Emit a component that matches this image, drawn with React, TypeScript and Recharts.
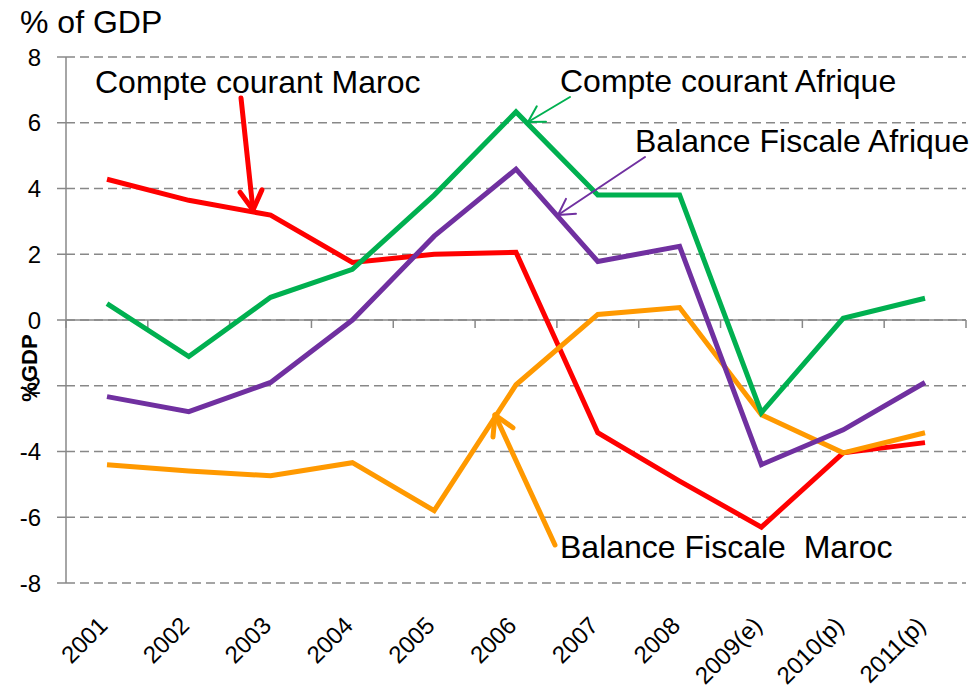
import { LineChart, Line, XAxis, YAxis, CartesianGrid, ReferenceLine } from 'recharts';

const years = ['2001', '2002', '2003', '2004', '2005', '2006', '2007', '2008', '2009(e)', '2010(p)', '2011(p)'];
const compteMaroc = [4.28, 3.64, 3.19, 1.75, 2.0, 2.06, -3.43, -4.9, -6.3, -4.04, -3.73];
const compteAfrique = [0.5, -1.11, 0.69, 1.54, 3.8, 6.33, 3.8, 3.8, -2.82, 0.05, 0.66];
const balanceAfrique = [-2.33, -2.79, -1.9, 0.0, 2.55, 4.59, 1.78, 2.24, -4.4, -3.34, -1.9];
const balanceMaroc = [-4.4, -4.59, -4.74, -4.34, -5.8, -1.97, 0.17, 0.38, -2.88, -4.04, -3.43];
const yTicks = [-8, -6, -4, -2, 0, 2, 4, 6, 8];

const data = years.map((year, i) => ({
  year,
  compteMaroc: compteMaroc[i],
  compteAfrique: compteAfrique[i],
  balanceAfrique: balanceAfrique[i],
  balanceMaroc: balanceMaroc[i],
}));

const FONT = '"Liberation Sans", Arial, sans-serif';
const AXIS_GREY = '#888888';

const YearTick = ({ x, y, payload }: any) => {
  const tx = x + 2;
  const ty = y + 44;
  return (
    <text
      x={tx}
      y={ty}
      transform={`rotate(-45, ${tx}, ${ty})`}
      textAnchor="end"
      fontSize={24}
      fontFamily={FONT}
      fill="#000"
    >
      {payload.value}
    </text>
  );
};

// zero line with small ticks between the categories
const ZeroAxis = (props: any) => {
  const { x1, y1, x2 } = props;
  const n = years.length;
  const step = (x2 - x1) / n;
  const marks = [];
  for (let i = 0; i <= n; i++) {
    const mx = x1 + i * step;
    marks.push(<line key={i} x1={mx} y1={y1} x2={mx} y2={y1 + 8} stroke={AXIS_GREY} strokeWidth={1.5} />);
  }
  return (
    <g>
      <line x1={x1} y1={y1} x2={x2} y2={y1} stroke={AXIS_GREY} strokeWidth={1.5} />
      {marks}
    </g>
  );
};

const Arrow = ({ x1, y1, x2, y2, color, width, head }: any) => {
  const ang = Math.atan2(y2 - y1, x2 - x1);
  const spread = Math.PI / 6;
  const ax = x2 - head * Math.cos(ang - spread);
  const ay = y2 - head * Math.sin(ang - spread);
  const bx = x2 - head * Math.cos(ang + spread);
  const by = y2 - head * Math.sin(ang + spread);
  return (
    <g stroke={color} strokeWidth={width} strokeLinecap="round" fill="none">
      <line x1={x1} y1={y1} x2={x2} y2={y2} />
      <polyline points={`${ax},${ay} ${x2},${y2} ${bx},${by}`} strokeLinejoin="round" />
    </g>
  );
};

export default function App() {
  const lbl = { fontFamily: FONT, fontSize: 32, fill: '#000' };
  return (
    <div style={{ position: 'absolute', left: 0, top: 0, width: 971, height: 692, background: '#fff' }}>
      <LineChart
        width={971}
        height={692}
        data={data}
        margin={{ top: 57, right: 5, bottom: 9, left: 0 }}
      >
        <CartesianGrid horizontal vertical={false} stroke={AXIS_GREY} strokeDasharray="9 5" strokeWidth={1.5} />
        <XAxis
          dataKey="year"
          scale="point"
          padding={{ left: 41, right: 41 }}
          axisLine={false}
          tickLine={false}
          tickSize={0}
          tickMargin={0}
          height={100}
          interval={0}
          tick={<YearTick />}
        />
        <YAxis
          domain={[-8, 8]}
          ticks={yTicks}
          interval={0}
          width={66}
          axisLine={{ stroke: AXIS_GREY, strokeWidth: 1.5 }}
          tickLine={{ stroke: AXIS_GREY, strokeWidth: 1.5 }}
          tickSize={9}
          tickMargin={16}
          tick={{ fontSize: 24, fill: '#000', fontFamily: FONT }}
        />
        <ReferenceLine y={0} shape={<ZeroAxis />} />
        <Line dataKey="compteMaroc" stroke="#FF0000" strokeWidth={5} dot={false} isAnimationActive={false} />
        <Line dataKey="balanceMaroc" stroke="#FF9900" strokeWidth={5} dot={false} isAnimationActive={false} />
        <Line dataKey="balanceAfrique" stroke="#7030A0" strokeWidth={5} dot={false} isAnimationActive={false} />
        <Line dataKey="compteAfrique" stroke="#00B050" strokeWidth={5} dot={false} isAnimationActive={false} />
      </LineChart>
      <svg width={971} height={692} style={{ position: 'absolute', left: 0, top: 0, pointerEvents: 'none' }}>
        <text x={20} y={33} {...lbl}>% of GDP</text>
        <text
          x={37}
          y={368}
          transform="rotate(-90, 37, 368)"
          textAnchor="middle"
          fontFamily={FONT}
          fontSize={22}
          fontWeight="bold"
          fill="#000"
        >
          %GDP
        </text>
        <text x={95} y={93} {...lbl}>Compte courant Maroc</text>
        <text x={560} y={92} {...lbl}>Compte courant Afrique</text>
        <text x={635} y={152} {...lbl}>Balance Fiscale Afrique</text>
        <text x={560} y={558} {...lbl} style={{ whiteSpace: 'pre' }}>{'Balance Fiscale  Maroc'}</text>
        <Arrow x1={241} y1={98} x2={253} y2={210} color="#FF0000" width={5} head={22} />
        <Arrow x1={570} y1={97} x2={528} y2={122} color="#00B050" width={2} head={18} />
        <Arrow x1={645} y1={157} x2={558} y2={215} color="#7030A0" width={2} head={18} />
        <Arrow x1={555} y1={545} x2={495} y2={415} color="#FF9900" width={5} head={22} />
      </svg>
    </div>
  );
}
